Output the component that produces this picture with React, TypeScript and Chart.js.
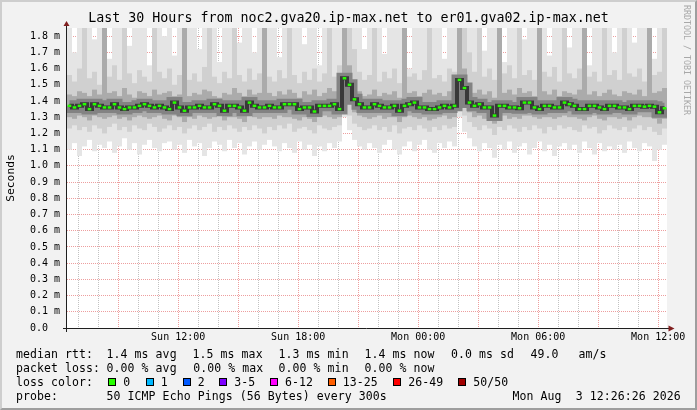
import React, { useEffect, useRef } from 'react';
import { Chart, registerables } from 'chart.js';

Chart.register(...registerables);

// time axis in minutes since Sunday 00:00
const startMinute = 386.43; // Sun 06:26:26
const endMinute = 2186.43; // Mon 12:26:26
const stepMinutes = 15;

const xTickMinutes = [720, 1080, 1440, 1800, 2160];
const xTickLabels = ['Sun 12:00', 'Sun 18:00', 'Mon 00:00', 'Mon 06:00', 'Mon 12:00'];
const yTickValues = [0, 0.1, 0.2, 0.3, 0.4, 0.5, 0.6, 0.7, 0.8, 0.9, 1.0, 1.1, 1.2, 1.3, 1.4, 1.5, 1.6, 1.7, 1.8];

// values in ms
const rttMedian = [
  1.37, 1.36, 1.37, 1.38, 1.35, 1.38, 1.37, 1.36, 1.36, 1.38,
  1.36, 1.35, 1.36, 1.36, 1.37, 1.38, 1.37, 1.36, 1.37, 1.36,
  1.35, 1.39, 1.36, 1.34, 1.36, 1.36, 1.37, 1.36, 1.36, 1.38,
  1.37, 1.34, 1.37, 1.37, 1.36, 1.34, 1.39, 1.37, 1.36, 1.36,
  1.37, 1.36, 1.36, 1.38, 1.38, 1.38, 1.35, 1.36, 1.36, 1.335,
  1.37, 1.37, 1.37, 1.38, 1.35, 1.54, 1.5, 1.41, 1.38, 1.36,
  1.36, 1.38, 1.37, 1.36, 1.36, 1.37, 1.34, 1.37, 1.38, 1.39,
  1.36, 1.36, 1.35, 1.35, 1.36, 1.37, 1.36, 1.37, 1.53, 1.48,
  1.39, 1.37, 1.38, 1.36, 1.36, 1.31, 1.37, 1.37, 1.36, 1.36,
  1.355, 1.39, 1.39, 1.36, 1.35, 1.37, 1.37, 1.36, 1.36, 1.39,
  1.38, 1.37, 1.35, 1.35, 1.37, 1.37, 1.36, 1.35, 1.37, 1.37,
  1.36, 1.36, 1.35, 1.37, 1.37, 1.365, 1.37, 1.365, 1.33, 1.355,
];

const rttMax = [
  1.85, 1.7, 1.85, 1.85, 1.85, 1.78, 1.85, 1.85, 1.66, 1.85,
  1.85, 1.85, 1.74, 1.85, 1.85, 1.85, 1.62, 1.85, 1.85, 1.8,
  1.85, 1.68, 1.85, 1.85, 1.85, 1.85, 1.72, 1.85, 1.85, 1.85,
  1.64, 1.85, 1.85, 1.85, 1.76, 1.85, 1.85, 1.7, 1.85, 1.85,
  1.85, 1.85, 1.67, 1.85, 1.85, 1.85, 1.85, 1.75, 1.85, 1.85,
  1.62, 1.85, 1.85, 1.85, 1.85, 1.85, 1.85, 1.85, 1.85, 1.72,
  1.85, 1.85, 1.85, 1.69, 1.85, 1.85, 1.85, 1.85, 1.6, 1.85,
  1.85, 1.85, 1.77, 1.85, 1.85, 1.66, 1.85, 1.85, 1.85, 1.85,
  1.85, 1.85, 1.85, 1.71, 1.85, 1.85, 1.85, 1.64, 1.85, 1.85,
  1.85, 1.78, 1.85, 1.85, 1.85, 1.85, 1.68, 1.85, 1.85, 1.85,
  1.73, 1.85, 1.85, 1.85, 1.62, 1.85, 1.85, 1.85, 1.85, 1.7,
  1.85, 1.85, 1.85, 1.76, 1.85, 1.85, 1.85, 1.66, 1.85, 1.85,
];

const rttP90 = [
  1.56, 1.52, 1.6, 1.85, 1.54, 1.58, 1.5, 1.85, 1.55, 1.62,
  1.53, 1.85, 1.57, 1.51, 1.59, 1.55, 1.52, 1.85, 1.58, 1.54,
  1.6, 1.5, 1.56, 1.85, 1.53, 1.57, 1.52, 1.61, 1.85, 1.55,
  1.51, 1.58, 1.54, 1.85, 1.56, 1.52, 1.6, 1.53, 1.57, 1.85,
  1.55, 1.52, 1.59, 1.54, 1.85, 1.56, 1.51, 1.58, 1.53, 1.6,
  1.52, 1.57, 1.85, 1.55, 1.62, 1.85, 1.85, 1.72, 1.58, 1.53,
  1.56, 1.85, 1.52, 1.58, 1.54, 1.6, 1.51, 1.85, 1.55, 1.57,
  1.53, 1.59, 1.85, 1.54, 1.56, 1.52, 1.6, 1.58, 1.85, 1.85,
  1.7, 1.58, 1.85, 1.55, 1.6, 1.53, 1.85, 1.57, 1.62, 1.54,
  1.85, 1.56, 1.59, 1.53, 1.85, 1.58, 1.55, 1.61, 1.52, 1.85,
  1.57, 1.54, 1.6, 1.85, 1.55, 1.58, 1.52, 1.85, 1.56, 1.59,
  1.53, 1.85, 1.57, 1.55, 1.6, 1.52, 1.85, 1.56, 1.58, 1.85,
];

const rttP75 = [
  1.44, 1.43, 1.46, 1.45, 1.43, 1.47, 1.44, 1.85, 1.45, 1.46,
  1.43, 1.48, 1.44, 1.42, 1.46, 1.45, 1.43, 1.47, 1.44, 1.45,
  1.46, 1.43, 1.44, 1.85, 1.43, 1.45, 1.44, 1.47, 1.46, 1.43,
  1.42, 1.45, 1.44, 1.48, 1.45, 1.43, 1.47, 1.44, 1.45, 1.85,
  1.45, 1.43, 1.46, 1.44, 1.47, 1.45, 1.42, 1.46, 1.44, 1.47,
  1.43, 1.45, 1.48, 1.46, 1.5, 1.85, 1.62, 1.52, 1.46, 1.43,
  1.44, 1.47, 1.43, 1.45, 1.44, 1.46, 1.42, 1.85, 1.45, 1.46,
  1.43, 1.45, 1.47, 1.44, 1.45, 1.43, 1.46, 1.48, 1.85, 1.6,
  1.5, 1.45, 1.47, 1.44, 1.46, 1.42, 1.85, 1.45, 1.47, 1.44,
  1.48, 1.45, 1.46, 1.43, 1.85, 1.46, 1.44, 1.47, 1.43, 1.46,
  1.45, 1.44, 1.47, 1.85, 1.44, 1.46, 1.43, 1.45, 1.47, 1.44,
  1.43, 1.46, 1.45, 1.44, 1.47, 1.43, 1.85, 1.45, 1.46, 1.48,
];

const rttP25 = [
  1.3, 1.29, 1.31, 1.3, 1.28, 1.31, 1.3, 1.29, 1.3, 1.31,
  1.29, 1.3, 1.28, 1.3, 1.31, 1.3, 1.29, 1.3, 1.31, 1.29,
  1.28, 1.31, 1.3, 1.27, 1.3, 1.29, 1.31, 1.3, 1.29, 1.3,
  1.31, 1.28, 1.3, 1.3, 1.29, 1.27, 1.31, 1.3, 1.29, 1.3,
  1.3, 1.29, 1.31, 1.3, 1.3, 1.29, 1.28, 1.3, 1.29, 1.27,
  1.3, 1.31, 1.3, 1.29, 1.3, 1.44, 1.38, 1.33, 1.31, 1.3,
  1.29, 1.3, 1.31, 1.29, 1.3, 1.3, 1.27, 1.3, 1.31, 1.3,
  1.29, 1.3, 1.28, 1.29, 1.3, 1.31, 1.29, 1.3, 1.45, 1.38,
  1.33, 1.3, 1.31, 1.29, 1.3, 1.26, 1.3, 1.31, 1.29, 1.3,
  1.29, 1.31, 1.31, 1.3, 1.29, 1.3, 1.3, 1.29, 1.3, 1.31,
  1.3, 1.3, 1.29, 1.28, 1.3, 1.31, 1.29, 1.28, 1.3, 1.3,
  1.29, 1.3, 1.28, 1.3, 1.31, 1.3, 1.3, 1.29, 1.26, 1.29,
];

const rttP10 = [
  1.23, 1.25, 1.22, 1.24, 1.21, 1.25, 1.23, 1.2, 1.24, 1.26,
  1.22, 1.24, 1.21, 1.25, 1.23, 1.22, 1.26, 1.24, 1.21, 1.23,
  1.25, 1.22, 1.24, 1.2, 1.23, 1.25, 1.22, 1.24, 1.26, 1.21,
  1.24, 1.22, 1.25, 1.23, 1.21, 1.24, 1.22, 1.25, 1.23, 1.2,
  1.24, 1.22, 1.25, 1.23, 1.26, 1.21, 1.23, 1.24, 1.22, 1.2,
  1.25, 1.23, 1.22, 1.24, 1.25, 1.38, 1.31, 1.26, 1.24, 1.22,
  1.23, 1.25, 1.22, 1.24, 1.21, 1.25, 1.2, 1.23, 1.24, 1.22,
  1.25, 1.23, 1.21, 1.24, 1.22, 1.25, 1.23, 1.24, 1.4, 1.31,
  1.27, 1.24, 1.22, 1.25, 1.23, 1.19, 1.24, 1.22, 1.25, 1.23,
  1.21, 1.24, 1.22, 1.25, 1.23, 1.2, 1.24, 1.22, 1.25, 1.23,
  1.24, 1.22, 1.21, 1.25, 1.23, 1.24, 1.2, 1.22, 1.25, 1.23,
  1.22, 1.24, 1.21, 1.23, 1.25, 1.22, 1.24, 1.21, 1.19, 1.23,
];

const rttMin = [
  1.1, 1.14, 1.06, 1.12, 1.16, 1.09, 1.13, 1.11, 1.15, 1.08,
  1.12, 1.17, 1.1, 1.14, 1.07, 1.13, 1.16, 1.11, 1.09, 1.14,
  1.15, 1.1, 1.13, 1.08, 1.16, 1.12, 1.14, 1.06, 1.11, 1.15,
  1.13, 1.09, 1.16, 1.11, 1.14, 1.07, 1.12, 1.15, 1.1, 1.13,
  1.16, 1.12, 1.09, 1.14, 1.11, 1.08, 1.15, 1.1, 1.13, 1.06,
  1.12, 1.09, 1.14, 1.11, 1.15, 1.3, 1.22, 1.16, 1.12, 1.1,
  1.14, 1.11, 1.08, 1.13, 1.16, 1.1, 1.07, 1.12, 1.15, 1.09,
  1.13, 1.16, 1.1, 1.08, 1.14, 1.11, 1.15, 1.12, 1.3, 1.21,
  1.17, 1.12, 1.09, 1.14, 1.11, 1.05, 1.13, 1.1, 1.15, 1.08,
  1.12, 1.14, 1.07, 1.11, 1.15, 1.09, 1.13, 1.06, 1.12, 1.14,
  1.1, 1.13, 1.08, 1.15, 1.11, 1.07, 1.14, 1.09, 1.12, 1.1,
  1.13, 1.08, 1.15, 1.11, 1.09, 1.14, 1.12, 1.03, 1.1, 1.13,
];

const lossColors = ['#26ff00', '#00b8ff', '#0059ff', '#7e00ff', '#ff00ff', '#ff5e00', '#ff0000', '#a10000'];
const lossLabels = ['0', '1', '2', '3-5', '6-12', '13-25', '26-49', '50/50'];

const colX = (i: number) => startMinute + stepMinutes * i + stepMinutes / 2;
const band = (lo: number[], hi: number[]) => lo.map((v, i) => ({ x: colX(i), y: [v, hi[i]] }));
const pts = (arr: number[]) => arr.map((v, i) => ({ x: colX(i), y: v }));

const MONO = "'DejaVu Sans Mono', monospace";

const frameTextStyle: React.CSSProperties = {
  position: 'absolute',
  fontFamily: MONO,
  fontSize: '11.5px',
  letterSpacing: '0.08px',
  lineHeight: '14px',
  whiteSpace: 'pre',
  color: '#000',
};

const legendRows: { top: number; items: [number, string][] }[] = [
  {
    top: 347,
    items: [
      [16, 'median rtt:'],
      [106.6, '1.4 ms avg'],
      [192.6, '1.5 ms max'],
      [278.6, '1.3 ms min'],
      [364.4, '1.4 ms now'],
      [451, '0.0 ms sd'],
      [530.4, '49.0'],
      [578.6, 'am/s'],
    ],
  },
  {
    top: 361,
    items: [
      [16, 'packet loss:'],
      [106.6, '0.00 % avg'],
      [193.2, '0.00 % max'],
      [278.6, '0.00 % min'],
      [364.4, '0.00 % now'],
    ],
  },
  {
    top: 375,
    items: [[16, 'loss color:']],
  },
  {
    top: 389,
    items: [
      [16, 'probe:'],
      [106.6, '50 ICMP Echo Pings (56 Bytes) every 300s'],
      [512.6, 'Mon Aug  3 12:26:26 2026'],
    ],
  },
];

const swatchX = [108.3, 145.7, 182.7, 219.3, 270, 327.7, 393.3, 458.3];

export default function App() {
  const canvasRef = useRef<HTMLCanvasElement | null>(null);

  useEffect(() => {
    if (!canvasRef.current) return;
    const plotBg = {
      id: 'plotBg',
      beforeDraw(chart: any) {
        const { ctx, chartArea } = chart;
        ctx.save();
        ctx.fillStyle = '#ffffff';
        ctx.fillRect(chartArea.left, chartArea.top, chartArea.right - chartArea.left, chartArea.bottom - chartArea.top);
        ctx.restore();
      },
    };
    const axes = {
      id: 'rrdAxes',
      afterDraw(chart: any) {
        const { ctx, chartArea } = chart;
        const { left, right, top, bottom } = chartArea;
        ctx.save();
        ctx.strokeStyle = '#1f1f1f';
        ctx.lineWidth = 1;
        ctx.beginPath();
        ctx.moveTo(left - 4, bottom + 0.5);
        ctx.lineTo(right + 3, bottom + 0.5);
        ctx.moveTo(left - 0.5, bottom + 4);
        ctx.lineTo(left - 0.5, top - 3);
        ctx.stroke();
        ctx.fillStyle = '#801f1f';
        ctx.beginPath();
        ctx.moveTo(right + 1.5, bottom - 2.5);
        ctx.lineTo(right + 7.5, bottom + 0.5);
        ctx.lineTo(right + 1.5, bottom + 3.5);
        ctx.closePath();
        ctx.fill();
        ctx.beginPath();
        ctx.moveTo(left - 3.5, top - 2);
        ctx.lineTo(left - 0.5, top - 7);
        ctx.lineTo(left + 2.5, top - 2);
        ctx.closePath();
        ctx.fill();
        ctx.restore();
      },
    };

    const barCommon = {
      type: 'bar' as const,
      grouped: false,
      barPercentage: 1,
      categoryPercentage: 1,
      borderWidth: 0,
      inflateAmount: 0,
    };

    const chart = new Chart(canvasRef.current, {
      type: 'bar',
      data: {
        datasets: [
          { ...barCommon, label: 'min-max', data: band(rttMin, rttMax) as any, backgroundColor: '#e5e5e5', order: 6 },
          { ...barCommon, label: 'p10-p90', data: band(rttP10, rttP90) as any, backgroundColor: '#d0d0d0', order: 5 },
          { ...barCommon, label: 'p25-p75', data: band(rttP25, rttP75) as any, backgroundColor: '#ababab', order: 4 },
          {
            type: 'line',
            label: 'core',
            data: pts(rttMedian) as any,
            borderColor: '#838383',
            borderWidth: 11,
            stepped: 'middle',
            pointRadius: 0,
            fill: false,
            order: 3,
          } as any,
          {
            type: 'line',
            label: 'core dark',
            data: pts(rttMedian) as any,
            borderColor: '#383838',
            borderWidth: 4,
            stepped: 'middle',
            pointRadius: 0,
            fill: false,
            order: 2,
          } as any,
          {
            type: 'line',
            label: 'median rtt',
            data: pts(rttMedian) as any,
            showLine: false,
            pointStyle: 'line',
            pointRadius: 1.8,
            pointBorderWidth: 2.5,
            pointBorderColor: lossColors[0],
            pointBackgroundColor: lossColors[0],
            order: 1,
          } as any,
        ],
      },
      options: {
        animation: false,
        responsive: false,
        events: [],
        layout: { padding: { top: 28, right: 30, bottom: 60, left: 0 } },
        plugins: { legend: { display: false }, tooltip: { enabled: false }, title: { display: false } },
        scales: {
          x: {
            type: 'linear',
            min: startMinute,
            max: endMinute,
            offset: false,
            z: 1,
            border: { display: false, dash: [1, 1] },
            grid: {
              offset: false,
              drawTicks: false,
              lineWidth: 1,
              color: (c: any) =>
                c.tick && c.tick.value % 180 === 0 ? 'rgba(222,79,79,0.55)' : 'rgba(143,143,143,0.55)',
            },
            afterBuildTicks: (scale: any) => {
              const t: { value: number }[] = [];
              for (let m = Math.ceil(scale.min / 60) * 60; m <= scale.max; m += 60) t.push({ value: m });
              scale.ticks = t;
            },
            afterFit: (scale: any) => {
              scale.height = 22;
            },
            ticks: {
              autoSkip: false,
              maxRotation: 0,
              minRotation: 0,
              padding: 3,
              color: '#000',
              font: { family: MONO, size: 10 },
              callback: (v: any) => {
                const i = xTickMinutes.indexOf(Number(v));
                return i >= 0 ? xTickLabels[i] : '';
              },
            },
          },
          y: {
            type: 'linear',
            min: 0,
            max: 1.85,
            z: 1,
            border: { display: false, dash: [1, 1] },
            grid: { drawTicks: false, lineWidth: 1, color: 'rgba(222,79,79,0.55)' },
            afterBuildTicks: (scale: any) => {
              scale.ticks = yTickValues.map((v) => ({ value: v }));
            },
            afterFit: (scale: any) => {
              scale.width = 67;
            },
            title: {
              display: true,
              text: 'Seconds',
              color: '#000',
              font: { family: MONO, size: 11.3 },
              padding: { top: 4, bottom: 0 },
            },
            ticks: {
              padding: 7,
              color: '#000',
              font: { family: MONO, size: 10 },
              callback: (v: any) => (Number(v) === 0 ? '0.0  ' : Number(v).toFixed(1) + ' m'),
            },
          },
        },
      },
      plugins: [plotBg, axes],
    } as any);
    return () => chart.destroy();
  }, []);

  return (
    <div
      style={{
        position: 'absolute',
        left: 0,
        top: 0,
        width: 697,
        height: 410,
        background: '#f2f2f2',
        overflow: 'hidden',
      }}
    >
      <canvas ref={canvasRef} width={697} height={410} style={{ position: 'absolute', left: 0, top: 0, width: 697, height: 410 }} />
      <div
        style={{
          position: 'absolute',
          left: 0,
          top: 9,
          width: 697,
          textAlign: 'center',
          fontFamily: MONO,
          fontSize: '13.3px',
          lineHeight: '18px',
          whiteSpace: 'pre',
          color: '#000',
        }}
      >
        Last 30 Hours from noc2.gva20.ip-max.net to er01.gva02.ip-max.net
      </div>
      <div
        style={{
          position: 'absolute',
          left: 682,
          top: 5,
          writingMode: 'vertical-rl',
          fontFamily: MONO,
          fontSize: '8.3px',
          lineHeight: '10px',
          color: '#a8a8a8',
          whiteSpace: 'pre',
        }}
      >
        RRDTOOL / TOBI OETIKER
      </div>
      {legendRows.map((row, r) =>
        row.items.map(([x, text], k) => (
          <div key={`${r}-${k}`} style={{ ...frameTextStyle, left: x, top: row.top }}>
            {text}
          </div>
        ))
      )}
      {lossColors.map((c, i) => (
        <React.Fragment key={`sw-${i}`}>
          <div
            style={{
              position: 'absolute',
              left: swatchX[i],
              top: 378,
              width: 8,
              height: 8,
              boxSizing: 'border-box',
              border: '1px solid #000',
              background: c,
            }}
          />
          <div style={{ ...frameTextStyle, left: swatchX[i] + 15, top: 375 }}>{lossLabels[i]}</div>
        </React.Fragment>
      ))}
      <div
        style={{
          position: 'absolute',
          left: 0,
          top: 0,
          width: 697,
          height: 410,
          boxSizing: 'border-box',
          borderTop: '2px solid #cecece',
          borderLeft: '2px solid #cecece',
          borderRight: '2px solid #9e9e9e',
          borderBottom: '2px solid #9e9e9e',
          pointerEvents: 'none',
        }}
      />
    </div>
  );
}
